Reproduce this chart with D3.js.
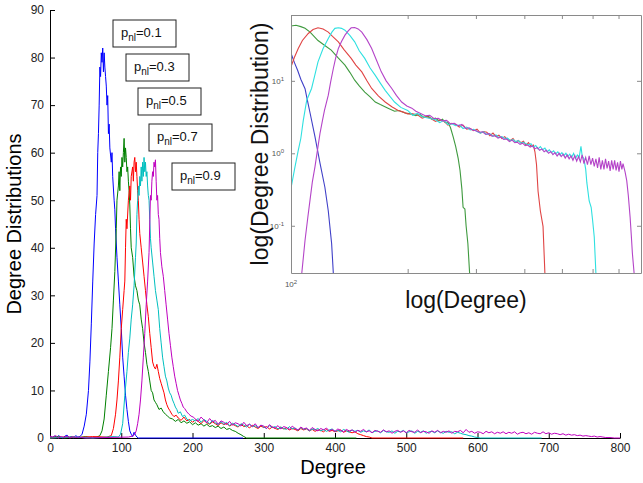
<!DOCTYPE html>
<html>
<head>
<meta charset="utf-8">
<script src="https://cdnjs.cloudflare.com/ajax/libs/d3/7.8.5/d3.min.js"></script>
<style>
  body { margin: 0; background: #fff; }
  svg { display: block; font-family: Arial, "Liberation Sans", sans-serif; }
</style>
</head>
<body>
<svg id="chart" width="643" height="483"></svg>
<script>
// ---- data: main plot, [degree, count] ----
const seriesNames = ["0.1", "0.3", "0.5", "0.7", "0.9"];

const mainBlue = [[0,0.3],[3,0],[6,0.4],[9,0.1],[12,0.5],[15,0.2],[18,0],[21,0.4],[24,0.6],[27,0.1],[30,0.3],[33,0],[36,0.5],[39,0.2],[42,0.3],[45,0.8],[48,2.5],[51,5],[54,10],[56,16],[58,24],[60,33],[62,41],[64,47],[66,51],[67,60],[68,64],[69,70],[70,78],[71,76],[72,81],[73,79],[74,82],[75,77],[76,81],[77,78],[78,76],[79,74],[80,70],[81,72],[82,64],[83,66],[84,61],[86,58],[87,60],[88,55],[90,50],[91,48],[92,44],[94,38],[96,33],[98,28],[100,23],[102,17],[104,13],[106,9],[108,6],[110,3.5],[112,1.5],[114,0.8],[116,0.3],[118,1.2],[120,0.6],[122,0.2],[124,0],[271,0]];

const mainGreen = [[0,0.1],[10,0.3],[20,0],[30,0.2],[40,0.1],[50,0.3],[60,0],[66,0.2],[70,0.5],[73,1.5],[76,4],[79,9],[82,14],[85,19],[87,23],[89,29],[91,35],[93,44],[94,50],[96,53],[97,56],[98,52],[99,57],[100,55],[101,59],[102,57],[103,60],[104,63],[105,58],[106,61],[107,59],[108,56],[109,57],[110,54],[111,52],[112,49],[113,44],[114,40],[116,38],[118,34],[120,32],[122,31],[124,29],[126,28],[128,25],[130,23],[132,20],[134,18],[136,15.5],[138,14],[140,12],[142,10],[144,9.5],[146,8],[148,7.5],[150,7],[153,6],[156,6.3],[159,5.5],[162,5],[165,4.6],[168,4.2],[172,4],[176,3.5],[180,3.9],[184,3.2],[188,3.6],[192,3.1],[196,3.4],[200,2.8],[204,3.2],[208,2.7],[212,3],[216,2.5],[220,2.9],[224,2.4],[228,2.6],[232,2.2],[236,2.5],[240,2],[244,2.3],[248,1.8],[252,2],[256,1.6],[260,1.4],[264,1],[268,0.7],[272,0.3],[276,0],[430,0]];

const mainRed = [[0,0],[20,0.2],[40,0.1],[60,0.3],[80,0.2],[86,0.5],[89,2],[92,5],[94,8],[96,12],[98,17],[100,23],[102,27],[104,31],[105,33],[106,40],[107,46],[108,44],[110,50],[112,53],[113,50],[114,55],[116,57],[117,54],[118,58],[119,59],[120,56],[121,58],[122,55],[123,52],[124,50],[125,46],[126,43],[128,40],[130,37],[132,34],[134,31],[136,28],[138,25.5],[140,22],[142,19],[144,16],[146,15],[148,14.5],[150,15.5],[152,14],[154,12.5],[156,11.5],[158,10.5],[160,9.5],[162,8],[164,7],[166,6.3],[168,5.8],[171,5],[174,4.5],[177,4.8],[180,4.2],[184,3.7],[188,4.4],[192,3.6],[196,3.9],[200,3.3],[204,3.8],[208,3.5],[212,3],[216,3.7],[220,3.2],[224,2.9],[228,3.4],[232,3],[236,2.6],[240,3.2],[244,2.8],[248,3.1],[252,2.5],[256,2.9],[260,2.6],[264,2.3],[268,2.9],[272,2.4],[276,2.6],[280,2.1],[284,2.7],[288,2.3],[292,2],[296,2.5],[300,2.2],[304,2.4],[308,1.9],[312,2.3],[316,2],[320,1.8],[324,2.3],[328,1.9],[332,2.1],[336,1.7],[340,2],[344,1.8],[348,1.5],[352,2],[356,1.7],[360,1.9],[364,1.5],[368,1.8],[372,1.4],[376,1.7],[380,1.6],[384,1.3],[388,1.8],[392,1.4],[396,1.6],[400,1.3],[404,1.5],[408,1.7],[412,1.2],[416,1.5],[420,1.3],[424,1.1],[428,1.3],[432,0.9],[436,0.7],[440,0.5],[444,0.3],[448,0.2],[452,0],[580,0]];

const mainCyan = [[0,0],[30,0.2],[60,0],[90,0.3],[96,0.2],[99,0.8],[102,3],[105,9],[108,14],[110,18],[112,21],[114,25],[116,28],[118,32],[120,38],[121,41],[122,47],[123,50],[124,53],[125,51],[126,55],[127,53],[128,57],[129,54],[130,58],[131,55],[132,59],[133,56],[134,58],[135,55],[136,56],[137,53],[138,51],[139,50],[140,46],[141,42],[142,40],[144,37],[146,34],[148,31],[150,29],[152,27],[154,23],[156,20],[158,17],[160,15],[162,13],[164,12],[166,10.5],[168,9.5],[170,9],[172,8],[174,7.3],[176,6.5],[178,6],[180,5.2],[183,5.5],[186,4.5],[189,4.8],[192,4],[196,3.6],[200,3.9],[204,3.6],[208,4.1],[212,3.3],[216,3.9],[220,3.5],[224,3],[228,3.7],[232,3.2],[236,2.8],[240,3.4],[244,2.9],[248,3.3],[252,2.6],[256,3.1],[260,2.8],[264,2.4],[268,3],[272,2.7],[276,2.3],[280,2.9],[284,2.4],[288,2.6],[292,2.1],[296,2.7],[300,2.3],[304,2],[308,2.6],[312,2.2],[316,2.4],[320,1.9],[324,2.3],[328,2],[332,1.8],[336,2.4],[340,1.9],[344,2.1],[348,1.6],[352,2.2],[356,1.8],[360,2],[364,1.5],[368,1.9],[372,1.7],[376,2],[380,1.5],[384,1.8],[388,1.4],[392,1.7],[396,1.9],[400,1.4],[404,1.6],[408,1.3],[412,1.8],[416,1.5],[420,1.2],[424,1.7],[428,1.4],[432,1.6],[436,1.2],[440,1.5],[444,1.3],[448,1.7],[452,1.1],[456,1.4],[460,1.5],[464,1.1],[468,1.6],[472,1.3],[476,1.2],[480,1.5],[484,1],[488,1.4],[492,1.3],[496,1.6],[500,1.1],[504,1.3],[508,1.5],[512,1],[516,1.4],[520,1.2],[524,1.5],[528,1],[532,1.3],[536,1.4],[540,1.1],[544,1.5],[548,1.2],[552,1],[556,1.4],[560,1.2],[564,1.3],[568,0.9],[572,1.2],[576,1],[580,0.8],[584,0.7],[588,0.5],[592,0.4],[596,0.2],[600,0.1],[604,0],[690,0]];

const mainMagenta = [[0,0.4],[4,0.2],[8,0.5],[12,0],[16,0.3],[20,0.1],[24,0.4],[28,0],[32,0.3],[36,0.1],[40,0.2],[50,0],[80,0.1],[110,0.2],[116,0.4],[119,0.8],[121,1.5],[123,3],[125,5],[127,8],[129,12],[131,17],[133,22],[135,28],[137,33],[139,39],[140,45],[141,51],[142,50],[143,54],[144,56],[145,55],[146,58],[147,57],[148,58.5],[149,54],[150,50],[151,51],[152,47],[153,46],[154,42],[155,39],[157,36],[159,34],[161,31],[163,28],[165,25],[167,22],[169,19.5],[171,17],[173,15],[175,13],[177,11.5],[179,10],[181,9],[183,8],[185,7.3],[187,6.5],[189,6.2],[192,5.5],[195,5],[198,4.6],[201,4.4],[204,4],[208,3.5],[212,4.4],[216,3.8],[220,3.2],[224,4.1],[228,3.4],[232,3.7],[236,2.9],[240,3.6],[244,3.3],[248,2.8],[252,3.5],[256,2.7],[260,3.2],[264,3],[268,2.5],[272,3.3],[276,2.6],[280,2.9],[284,2.4],[288,3],[292,2.2],[296,2.7],[300,2.5],[304,2],[308,2.8],[312,2.3],[316,2.1],[320,2.6],[324,1.9],[328,2.4],[332,2.2],[336,1.8],[340,2.5],[344,2],[348,1.7],[352,2.3],[356,1.9],[360,2.1],[364,1.6],[368,2.2],[372,1.8],[376,1.5],[380,2],[384,1.7],[388,2.1],[392,1.5],[396,1.8],[400,1.4],[404,1.9],[408,1.6],[412,1.3],[416,1.8],[420,1.5],[424,1.7],[428,1.2],[432,1.6],[436,1.4],[440,1.8],[444,1.3],[448,1.5],[452,1.1],[456,1.6],[460,1.4],[464,1.2],[468,1.7],[472,1.3],[476,1.5],[480,1],[484,1.4],[488,1.6],[492,1.2],[496,1.5],[500,1.1],[504,1.6],[508,1.3],[512,1.2],[516,1.7],[520,1.1],[524,1.4],[528,1.3],[532,1],[536,1.5],[540,1.2],[544,1.6],[548,1.1],[552,1.4],[556,1.2],[560,1.5],[564,1],[568,1.4],[572,1.3],[576,1.6],[580,1.1],[584,1.8],[588,1.2],[592,1.4],[596,1],[600,1.3],[604,1.2],[608,0.9],[612,1.4],[616,1.1],[620,1.3],[624,0.9],[628,1.2],[632,1],[636,1.3],[640,0.9],[644,1.2],[648,1],[652,1.3],[656,0.8],[660,1.1],[664,1.2],[668,0.9],[672,1.1],[676,0.8],[680,1.2],[684,1],[688,0.9],[692,1.3],[696,0.9],[700,1.1],[704,0.8],[708,1],[712,0.9],[716,0.7],[720,0.9],[724,0.6],[728,0.8],[732,0.6],[736,0.7],[740,0.5],[744,0.6],[748,0.4],[752,0.5],[756,0.4],[760,0.3],[764,0.4],[768,0.2],[772,0.3],[776,0.2],[780,0.1],[786,0.1],[792,0],[800,0]];

// ---- data: inset (log-log, smoother curves) ----
const insetBlue = [[100,24],[102,18],[104,14],[106,10.5],[108.7,7.8],[110.2,5.4],[112,3.6],[115.3,1.7],[118.8,0.73],[122.3,0.34],[124.8,0.16],[127.3,0.057],[128.6,0.022]];

const insetGreen = [[100,57],[103,58.5],[106,56],[108.7,53],[112,47],[117.4,36],[122,31],[127,26.5],[132,21],[137.8,16.5],[142,13],[146,10.2],[150,8.5],[155,7],[160,6],[165,5.1],[170,4.7],[178,4.2],[185,3.8],[190,3.9],[197,3.6],[204,3.5],[210,3.3],[215,3.45],[220,3.15],[226,3.25],[231,2.95],[236,3.05],[241,2.8],[246,2.95],[250,2.65],[254,2.7],[258,2.25],[262,1.7],[266,1.25],[270,0.85],[273,0.58],[276,0.32],[278,0.18],[281,0.17],[283,0.1],[286,0.057],[289,0.022]];

const insetRed = [[100,15.6],[102,21],[104.4,28],[107,36],[110.8,45],[114,51],[117.4,54],[121,52],[124.8,47],[128,41],[132.5,34.5],[137,27],[143,20.4],[147,16.5],[152.3,13.3],[157,10],[161.5,7.85],[168,6.2],[175,5.1],[182,4.4],[189,3.9],[195,3.7],[200,3.5],[206,3.5],[212,3.4],[218,3.05],[224,3.2],[230,3],[236,2.75],[242,2.9],[248,2.8],[254,2.45],[260,2.6],[266,2.5],[272,2.3],[278,2.45],[284,2.15],[290,2.2],[296,2.05],[302,2.15],[308,1.9],[314,2],[320,1.95],[326,1.75],[332,1.9],[338,1.7],[344,1.78],[350,1.6],[356,1.7],[362,1.55],[368,1.5],[374,1.6],[380,1.42],[386,1.5],[392,1.4],[398,1.47],[404,1.3],[410,1.4],[416,1.25],[422,1.3],[426,1.05],[430,0.7],[434,0.3],[440,0.16],[447,0.098],[452,0.022]];

const insetCyan = [[100,0.33],[102.4,0.65],[104.4,1.1],[106,1.6],[107.6,2.87],[109.8,5.4],[113,7.85],[115,11.5],[117.4,18.3],[121,28],[124.8,38.5],[127.5,47],[129.8,53],[132.5,54],[135,53],[137.8,50],[142,42],[146,34.5],[150,26],[155,20.4],[160,15],[165,11.9],[170,9.3],[175,7.4],[180,6.1],[185,5.1],[192,4.3],[200,3.9],[206,3.35],[212,3.55],[218,3.2],[224,3.1],[230,3],[236,2.9],[242,2.65],[248,2.85],[254,2.5],[260,2.55],[266,2.4],[272,2.45],[278,2.2],[284,2.3],[290,2.1],[296,2.15],[302,2],[308,1.9],[314,1.98],[320,1.82],[326,1.86],[332,1.72],[338,1.8],[344,1.65],[350,1.7],[356,1.6],[362,1.62],[368,1.5],[374,1.55],[380,1.45],[386,1.5],[392,1.38],[398,1.42],[404,1.35],[410,1.3],[416,1.36],[422,1.22],[428,1.28],[434,1.15],[440,1.24],[446,1.12],[452,1.18],[458,1.05],[464,1.12],[470,1.02],[476,1.08],[482,0.98],[488,1.05],[494,0.95],[500,1.02],[506,0.93],[512,1],[518,0.9],[524,0.97],[530,0.88],[536,1],[542,0.85],[548,0.95],[554,0.88],[560,1.25],[564,0.92],[570,0.84],[576,0.6],[580,0.39],[588,0.22],[595,0.18],[600,0.12],[606,0.07],[612,0.022]];

const insetMagenta = [[106.6,0.022],[108.7,0.063],[110.5,0.13],[112,0.23],[113.5,0.4],[115.3,0.65],[117,1.1],[118.8,1.88],[120.5,2.8],[122,3.9],[124.8,6.35],[126.5,9.5],[128.6,14.8],[130.5,21],[132.5,28],[135,35],[137.8,42.7],[140.5,49],[143,54],[146,54.5],[149,52],[152.3,47],[157,37],[161.5,28],[166,19.5],[171,13.3],[176,10],[182,7.85],[187,6.3],[193,5.1],[199,4.5],[205,4.2],[210,3.8],[216,3.55],[222,3.3],[228,3.35],[234,3],[240,3.05],[246,2.8],[252,2.85],[258,2.55],[264,2.6],[270,2.4],[276,2.5],[282,2.2],[288,2.25],[294,2.1],[300,2.05],[306,1.95],[312,1.98],[318,1.82],[324,1.88],[330,1.72],[336,1.75],[342,1.62],[348,1.68],[354,1.55],[360,1.58],[366,1.45],[372,1.52],[378,1.4],[384,1.42],[390,1.33],[396,1.38],[402,1.28],[408,1.3],[414,1.22],[420,1.26],[426,1.15],[432,1.2],[438,1.1],[444,1.15],[450,1.05],[456,1.1],[462,1],[468,1.06],[474,0.96],[480,1.02],[486,0.92],[492,1],[498,0.9],[504,0.97],[510,0.86],[516,0.95],[522,0.84],[528,0.92],[534,0.8],[540,0.93],[546,0.78],[552,0.9],[558,0.76],[564,0.95],[570,0.72],[576,0.88],[582,0.7],[588,0.92],[594,0.7],[600,0.86],[606,0.66],[612,0.84],[618,0.63],[624,0.88],[630,0.6],[636,0.8],[642,0.6],[648,0.84],[654,0.62],[660,0.78],[666,0.57],[672,0.8],[678,0.6],[684,0.8],[690,0.58],[696,0.75],[702,0.56],[708,0.78],[714,0.6],[719,0.72],[728,0.55],[735,0.42],[742,0.26],[750,0.13],[755,0.075],[760,0.042],[768,0.022]];

// ticks
const xTicks = [0, 100, 200, 300, 400, 500, 600, 700, 800];
const yTicks = [0, 10, 20, 30, 40, 50, 60, 70, 80, 90];
const insetXTicks = [100, 200, 300, 400, 500, 600, 700];
const insetYTicks = [0.1, 1, 10];

const mainColors = ["#0000ff", "#008000", "#ff0000", "#00bfbf", "#bf00bf"];
const insetColors = ["#4040c8", "#3f9a3f", "#e04444", "#2ee0e0", "#b444c8"];

const svg = d3.select("#chart");

// ---- main axes ----
const x = d3.scaleLinear().domain([0, 800]).range([50, 620]);
const y = d3.scaleLinear().domain([0, 90]).range([438, 10]);

const xAxis = svg.append("g")
  .attr("transform", `translate(0,${y(0)})`)
  .call(d3.axisBottom(x).tickValues(xTicks).tickSizeInner(-5).tickSizeOuter(0).tickPadding(5));
const yAxis = svg.append("g")
  .attr("transform", `translate(${x(0)},0)`)
  .call(d3.axisLeft(y).tickValues(yTicks).tickSizeInner(-5).tickSizeOuter(0).tickPadding(6));

[xAxis, yAxis].forEach(g => {
  g.select(".domain").attr("stroke", "#000");
  g.selectAll(".tick line").attr("stroke", "#000");
  g.selectAll(".tick text").attr("fill", "#222").style("font-size", "12px");
});

const line = d3.line().x(d => x(d[0])).y(d => y(d[1]));
const mainSeries = [mainBlue, mainGreen, mainRed, mainCyan, mainMagenta];

svg.append("g").selectAll("path")
  .data(mainSeries)
  .join("path")
  .attr("d", line)
  .attr("fill", "none")
  .attr("stroke", (d, i) => mainColors[i])
  .attr("stroke-width", 1);

// axis titles
svg.append("text")
  .attr("x", 333).attr("y", 474)
  .attr("text-anchor", "middle")
  .style("font-size", "20px")
  .text("Degree");

svg.append("text")
  .attr("transform", "translate(21,224) rotate(-90)")
  .attr("text-anchor", "middle")
  .style("font-size", "20px")
  .text("Degree Distributions");

// ---- legend boxes ----
const boxPos = [[113, 20], [126, 54], [138, 88], [149, 124], [172, 163]];
const legend = svg.append("g").selectAll("g")
  .data(seriesNames)
  .join("g")
  .attr("transform", (d, i) => `translate(${boxPos[i][0]},${boxPos[i][1]})`);

legend.append("rect")
  .attr("width", 63).attr("height", 27)
  .attr("fill", "#fff")
  .attr("stroke", "#222")
  .attr("stroke-width", 1);

const lt = legend.append("text")
  .attr("x", 8).attr("y", 17)
  .style("font-size", "13px")
  .attr("fill", "#111");
lt.append("tspan").text("p");
lt.append("tspan").attr("dy", 4).style("font-size", "10px").text("nl");
lt.append("tspan").attr("dy", -4).text(d => "=" + d);

// ---- inset ----
const ix = d3.scaleLog().domain([100, 800]).range([291, 641]);
const iy = d3.scaleLog().domain([0.0223, 81]).range([273, 15]);

const inset = svg.append("g");
inset.append("rect")
  .attr("x", 291).attr("y", 15)
  .attr("width", 350).attr("height", 258)
  .attr("fill", "#fff");

svg.append("defs").append("clipPath").attr("id", "insetClip")
  .append("rect").attr("x", 291).attr("y", 15).attr("width", 350).attr("height", 258);

const iline = d3.line().x(d => ix(d[0])).y(d => iy(d[1]));
const insetSeries = [insetBlue, insetGreen, insetRed, insetCyan, insetMagenta];

inset.append("g")
  .attr("clip-path", "url(#insetClip)")
  .selectAll("path")
  .data(insetSeries)
  .join("path")
  .attr("d", iline)
  .attr("fill", "none")
  .attr("stroke", (d, i) => insetColors[i])
  .attr("stroke-width", 1.1);

// inset frame with inward ticks
const frame = [
  inset.append("g").attr("transform", "translate(0,273)")
    .call(d3.axisBottom(ix).tickValues(insetXTicks).tickSizeInner(-4).tickSizeOuter(0).tickFormat("")),
  inset.append("g").attr("transform", "translate(0,15)")
    .call(d3.axisTop(ix).tickValues(insetXTicks).tickSizeInner(-4).tickSizeOuter(0).tickFormat("")),
  inset.append("g").attr("transform", "translate(291,0)")
    .call(d3.axisLeft(iy).tickValues(insetYTicks).tickSizeInner(-4).tickSizeOuter(0).tickPadding(7).tickFormat("")),
  inset.append("g").attr("transform", "translate(641,0)")
    .call(d3.axisRight(iy).tickValues(insetYTicks).tickSizeInner(-4).tickSizeOuter(0).tickFormat(""))
];
frame.forEach(g => {
  g.select(".domain").attr("stroke", "#8a8a8a");
  g.selectAll(".tick line").attr("stroke", "#8a8a8a");
});

// inset tick labels as 10^n
function powLabel(sel, n) {
  sel.append("tspan").text("10");
  sel.append("tspan").attr("dy", -3).style("font-size", "6px").text(n);
}
insetYTicks.forEach(v => {
  const t = inset.append("text")
    .attr("x", 284).attr("y", iy(v) + 3)
    .attr("text-anchor", "end")
    .attr("fill", "#555")
    .style("font-size", "8px");
  powLabel(t, Math.round(Math.log10(v)));
});
powLabel(inset.append("text")
  .attr("x", ix(100)).attr("y", 287)
  .attr("text-anchor", "middle")
  .attr("fill", "#555")
  .style("font-size", "8px"), 2);

inset.append("text")
  .attr("x", 466).attr("y", 308)
  .attr("text-anchor", "middle")
  .style("font-size", "23px")
  .attr("fill", "#111")
  .text("log(Degree)");

inset.append("text")
  .attr("transform", "translate(268,144) rotate(-90)")
  .attr("text-anchor", "middle")
  .style("font-size", "23px")
  .attr("fill", "#111")
  .text("log(Degree Distribution)");
</script>
</body>
</html>
